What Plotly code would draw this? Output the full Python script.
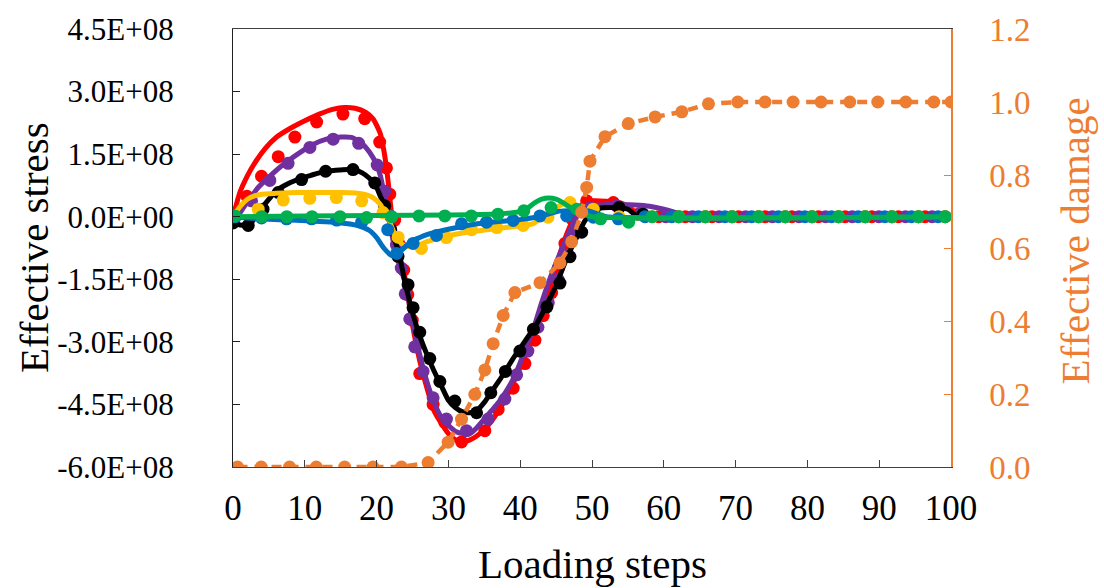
import plotly.graph_objects as go

# ---------------- data (stress in units of 1E+08) ----------------
steps_ticks = [0, 10, 20, 30, 40, 50, 60, 70, 80, 90, 100]
stress_tickvals = [-6, -4.5, -3, -1.5, 0, 1.5, 3, 4.5]
stress_ticktext = ["-6.0E+08", "-4.5E+08", "-3.0E+08", "-1.5E+08",
                   "0.0E+00", "1.5E+08", "3.0E+08", "4.5E+08"]
damage_ticks = [0.0, 0.2, 0.4, 0.6, 0.8, 1.0, 1.2]

# solid curves
red_line_x = [0, 1, 2, 3, 4.5, 6, 8, 10, 12, 14, 15.5, 17, 18.5, 19.5, 20.5, 21, 21.5, 22, 22.5, 23,
              24, 25, 26, 27, 28, 29, 30, 31, 32, 33, 34, 35, 36, 37, 38, 39, 40, 41, 42, 43, 44, 45, 46, 47, 48, 49,
              50, 52, 54, 55, 56, 57, 58, 100]
red_line_y = [0.0, 0.6, 0.98, 1.28, 1.64, 1.9, 2.12, 2.3, 2.46, 2.58, 2.62, 2.6, 2.5, 2.35, 2.0, 1.6, 1.0, 0.2, -0.4, -0.8,
              -1.5, -2.6, -3.45, -4.1, -4.65, -4.95, -5.2, -5.35, -5.4, -5.35, -5.25, -5.1, -4.9, -4.65, -4.35, -4.0,
              -3.6, -3.2, -2.8, -2.3, -1.8, -1.2, -0.64, -0.2, 0.15, 0.35,
              0.38, 0.37, 0.33, 0.25, 0.12, 0.03, 0.0, 0.0]

purple_line_x = [0, 1, 2, 3.5, 5, 7, 9, 11, 13, 15, 16.5, 18, 19, 20, 20.5, 21, 21.5, 22, 22.5, 23,
                 24, 25, 26, 27, 28, 29, 30, 31, 32, 33, 34, 35, 36, 37, 38, 39, 40, 41, 42, 43, 44, 45, 46, 47, 48, 49,
                 50, 52, 54, 56, 58, 60, 62, 63.5, 100]
purple_line_y = [-0.15, 0.1, 0.35, 0.7, 0.95, 1.25, 1.5, 1.72, 1.86, 1.91, 1.9, 1.75, 1.55, 1.25, 1.0, 0.6, 0.2, -0.3, -0.75, -1.05,
                 -1.6, -2.5, -3.3, -3.95, -4.45, -4.8, -5.0, -5.15, -5.2, -5.2, -5.05, -4.85, -4.65, -4.45, -4.2, -3.9,
                 -3.5, -3.05, -2.6, -2.05, -1.55, -1.1, -0.7, -0.3, 0.05, 0.2,
                 0.27, 0.29, 0.29, 0.28, 0.25, 0.18, 0.08, 0.0, 0.0]

black_line_x = [0, 1, 2, 3, 4, 5, 6, 7, 8, 9, 10, 11, 12, 13, 14, 15, 16, 17, 18, 19, 20, 20.5, 21, 21.5, 22, 22.5, 23,
                24, 25, 26, 27, 28, 29, 30, 31, 32, 33, 34, 35, 36, 37, 38, 39, 40, 41, 42, 43, 44, 45, 46, 47, 48, 49,
                50, 51, 53, 55, 56, 57, 100]
black_line_y = [-0.15, -0.2, -0.2, -0.05, 0.2, 0.42, 0.62, 0.73, 0.82, 0.89, 0.95, 1.0, 1.05, 1.09, 1.11, 1.12, 1.13, 1.12,
                1.05, 0.92, 0.7, 0.5, 0.32, 0.05, -0.25, -0.55, -0.8,
                -1.6, -2.3, -2.85, -3.3, -3.7, -4.05, -4.4, -4.58, -4.68, -4.7, -4.64, -4.45, -4.2, -3.95, -3.68, -3.4,
                -3.15, -2.9, -2.65, -2.35, -2.0, -1.65, -1.2, -0.8, -0.45, -0.1,
                0.1, 0.2, 0.22, 0.18, 0.05, 0.0, 0.0]

yellow_line_x = [0, 1, 2, 3, 4, 6, 9, 12, 15, 17, 18.5, 19.5, 20.5, 21, 21.5, 22, 22.5, 23.5, 24.5, 25.5,
                 27, 29, 31, 33, 35, 37, 39, 41, 42, 43, 44, 45, 46, 47, 48, 49, 50, 51, 100]
yellow_line_y = [0.0, 0.25, 0.42, 0.5, 0.54, 0.56, 0.58, 0.58, 0.58, 0.57, 0.53, 0.46, 0.3, 0.15, 0.0, -0.2, -0.4, -0.65,
                 -0.72, -0.7, -0.6, -0.5, -0.42, -0.36, -0.32, -0.28, -0.24, -0.2, -0.15, 0.0, 0.12, 0.22, 0.3, 0.3,
                 0.22, 0.12, 0.05, 0.0, 0.0]

blue_line_x = [0, 2, 5, 8, 11, 14, 16, 17.5, 19, 20, 21, 22, 22.5, 23, 24, 25, 26, 27, 28.5, 30,
               32, 34, 36, 38, 40, 42, 43, 44, 45, 46, 48, 49.5, 51, 52, 100]
blue_line_y = [0.0, -0.03, -0.06, -0.08, -0.1, -0.13, -0.17, -0.22, -0.33, -0.5, -0.75, -0.92, -0.95, -0.88, -0.72,
               -0.58, -0.5, -0.43, -0.36, -0.3, -0.23, -0.17, -0.13, -0.1, -0.07, -0.02, 0.02, 0.07, 0.12, 0.14,
               0.15, 0.14, 0.05, 0.0, 0.0]

green_line_x = [0, 10, 20, 30, 36, 38, 40, 41, 42, 43, 44, 45, 46, 47, 48, 49, 50, 100]
green_line_y = [0.0, 0.02, 0.03, 0.04, 0.06, 0.08, 0.12, 0.2, 0.33, 0.42, 0.45, 0.42, 0.33, 0.22, 0.12, 0.05, 0.0, 0.0]

# dotted (marker) series
red_dot_x = [0, 1.95, 3.97, 6.3, 8.62, 11.65, 15.31, 18.34, 20.43, 21.37, 21.83, 22.52, 23.22, 23.78, 24.34, 24.97,
             25.45, 26.01, 27.87, 29.5, 31.83, 35.08, 36.93, 39.02, 40.66, 42.05, 43.21, 44.38, 45.33, 46.23, 47.21,
             49.26, 52.97, 56.42, 59.29, 63.0, 66.71, 70.42, 74.13, 77.84, 81.55, 85.26, 88.97, 92.68, 96.39]
red_dot_y = [0.0, 0.49, 0.97, 1.44, 1.91, 2.27, 2.46, 2.35, 1.79, 1.17, 0.54, -0.08, -0.68, -1.28, -1.87, -2.48,
             -3.12, -3.76, -4.5, -4.93, -5.4, -5.13, -4.62, -4.11, -3.52, -2.96, -2.37, -1.82, -1.23, -0.64, -0.05,
             0.38, 0.34, 0.06, 0, 0, 0, 0, 0, 0, 0, 0, 0, 0, 0]

purple_dot_x = [0, 2.58, 5.13, 7.67, 10.71, 13.95, 17.5, 20.08, 21.13, 21.9, 22.76, 23.43, 23.99, 24.62, 25.31,
                26.47, 27.87, 29.73, 32.52, 35.54, 37.87, 39.5, 41.07, 42.47, 43.91, 45.3, 46.69, 47.63, 49.72,
                53.44, 56.83, 60.27, 63.98, 67.69, 71.4, 75.11, 78.82, 82.53, 86.24, 89.95, 93.66, 97.37]
purple_dot_y = [-0.03, 0.38, 0.87, 1.28, 1.66, 1.86, 1.76, 1.24, 0.61, 0.02, -0.68, -1.23, -1.85, -2.45, -3.12,
                -3.71, -4.34, -4.85, -5.13, -4.85, -4.37, -3.79, -3.22, -2.65, -2.06, -1.51, -0.92, -0.31, 0.22,
                0.26, 0.09, 0, 0, 0, 0, 0, 0, 0, 0, 0, 0, 0]

black_dot_x = [0, 2.12, 4.18, 6.3, 9.55, 12.9, 16.71, 19.74, 21.13, 21.97, 22.98, 24.38, 25.08, 26.01, 27.41, 28.81,
               30.89, 33.92, 35.91, 37.94, 39.96, 41.84, 43.72, 45.54, 46.93, 48.56, 50.28, 53.77, 57.11,
               62.08, 65.79, 69.5, 73.21, 76.92, 80.63, 84.34, 88.05, 91.76, 95.47, 99.18]
black_dot_y = [-0.15, -0.21, 0.18, 0.58, 0.89, 1.09, 1.13, 0.81, 0.26, -0.31, -0.95, -1.63, -2.18, -2.77, -3.4, -3.95,
               -4.42, -4.7, -4.22, -3.71, -3.22, -2.7, -2.16, -1.59, -0.96, -0.37, 0.16, 0.22, 0.06,
               0, 0, 0, 0, 0, 0, 0, 0, 0, 0, 0]

yellow_dot_x = [0, 3.51, 7.0, 10.7, 14.39, 17.92, 20.89, 22.99, 26.24, 29.72, 33.22, 36.75, 40.41, 43.87, 46.93,
                50.18, 53.76, 58.37, 62.08, 65.79, 69.5, 73.21, 76.92, 80.63, 84.34, 88.05, 91.76, 95.47, 99.18]
yellow_dot_y = [0.0, 0.18, 0.4, 0.44, 0.46, 0.38, 0.1, -0.49, -0.76, -0.5, -0.31, -0.26, -0.21, -0.01, 0.34,
                0.18, 0.0, 0, 0, 0, 0, 0, 0, 0, 0, 0, 0, 0, 0]

blue_dot_x = [0.35, 3.97, 7.46, 10.95, 14.44, 17.92, 21.55, 22.8, 25.08, 28.34, 31.83, 35.31, 39.02, 42.75, 46.47,
              50.18, 53.67, 57.39, 61.1, 64.81, 68.52, 72.23, 75.94, 79.65, 83.36, 87.07, 90.78, 94.49, 98.2]
blue_dot_y = [0.0, -0.03, -0.05, -0.05, -0.08, -0.13, -0.31, -0.88, -0.64, -0.45, -0.17, -0.13, -0.09, 0.02, 0.02,
              -0.01, -0.05, 0, 0, 0, 0, 0, 0, 0, 0, 0, 0, 0, 0]

green_dot_x = [0.25, 4.0, 7.5, 11.0, 14.9, 18.6, 22.1, 25.9, 29.5, 33.2, 36.9, 40.5, 44.3, 47.9, 51.2, 55.1,
               58.37, 62.08, 65.79, 69.5, 73.21, 76.92, 80.63, 84.34, 88.05, 91.76, 95.47, 99.18]
green_dot_y = [0.02, 0.0, 0.0, 0.0, 0.0, -0.02, 0.0, 0.02, 0.02, 0.02, 0.06, 0.14, 0.22, 0.18, -0.05, -0.13,
               0, 0, 0, 0, 0, 0, 0, 0, 0, 0, 0, 0]

damage_x = [0.63, 3.93, 7.88, 11.6, 15.55, 19.5, 23.46, 27.17, 29.96, 31.83, 33.68, 35.08, 36.23, 37.63, 39.26,
            42.75, 45.54, 47.17, 48.56, 49.26, 49.72, 51.81, 55.06, 58.79, 62.51, 66.22, 70.3, 74.1, 78.0, 81.9,
            85.9, 89.8, 93.7, 97.6, 100]
damage_y = [0, 0, 0, 0, 0, 0, 0, 0.012, 0.068, 0.131, 0.199, 0.266, 0.338, 0.415, 0.478,
            0.505, 0.559, 0.617, 0.698, 0.766, 0.838, 0.905, 0.941, 0.959, 0.973, 0.995, 1.0, 1.0, 1.0, 1.0,
            1.0, 1.0, 1.0, 1.0, 1.0]

# ---------------- styling ----------------
RED, PURPLE, BLACK = "#FF0000", "#7030A0", "#000000"
YELLOW, BLUE, GREEN, ORANGE = "#FFC000", "#0070C0", "#00B050", "#ED7D31"
FONT = "Liberation Serif"

fig = go.Figure()

lines = [(red_line_x, red_line_y, RED), (purple_line_x, purple_line_y, PURPLE),
         (black_line_x, black_line_y, BLACK), (yellow_line_x, yellow_line_y, YELLOW),
         (blue_line_x, blue_line_y, BLUE), (green_line_x, green_line_y, GREEN)]
dots = [(red_dot_x, red_dot_y, RED), (purple_dot_x, purple_dot_y, PURPLE),
        (black_dot_x, black_dot_y, BLACK), (yellow_dot_x, yellow_dot_y, YELLOW),
        (blue_dot_x, blue_dot_y, BLUE), (green_dot_x, green_dot_y, GREEN)]

for (lx, ly, c), (dx, dy, _) in zip(lines, dots):
    fig.add_trace(go.Scatter(x=lx, y=ly, mode="lines",
                             line=dict(color=c, width=5, shape="spline", smoothing=0.6),
                             showlegend=False, hoverinfo="skip"))
    fig.add_trace(go.Scatter(x=dx, y=dy, mode="markers",
                             marker=dict(color=c, size=13, line=dict(width=0)),
                             showlegend=False, hoverinfo="skip"))

fig.add_trace(go.Scatter(x=damage_x, y=damage_y, mode="lines+markers", yaxis="y2",
                         line=dict(color=ORANGE, width=4.5, dash="10px,7px"),
                         marker=dict(color=ORANGE, size=13, line=dict(width=0)),
                         showlegend=False, hoverinfo="skip"))

fig.update_layout(
    width=1104, height=588,
    margin=dict(l=233, r=153, t=22, b=121),
    paper_bgcolor="white", plot_bgcolor="white",
    font=dict(family=FONT, size=33, color="black"),
    xaxis=dict(range=[0, 100], tickvals=steps_ticks, showgrid=False, zeroline=False,
               showline=True, linecolor="#404040", linewidth=1.3, mirror=True,
               ticks="inside", ticklen=7, tickcolor="#404040", tickwidth=1.2,
               ticklabelstandoff=10, tickfont=dict(family=FONT, size=35, color="black")),
    yaxis=dict(range=[-6, 4.5], tickvals=stress_tickvals, ticktext=stress_ticktext,
               showgrid=False, zeroline=False, showline=True, linecolor="#202020", linewidth=1.3,
               ticks="inside", ticklen=7, tickcolor="#202020", tickwidth=1.2,
               ticklabelstandoff=52, tickfont=dict(family=FONT, size=31, color="black")),
    yaxis2=dict(range=[0, 1.2], tickvals=damage_ticks, tickformat=".1f", overlaying="y", side="right",
                showgrid=False, zeroline=False, showline=True, linecolor=ORANGE, linewidth=1.5,
                ticks="inside", ticklen=7, tickcolor=ORANGE, tickwidth=1.2,
                ticklabelstandoff=30, tickfont=dict(family=FONT, size=33, color=ORANGE)),
    annotations=[
        dict(text="Loading steps", xref="paper", yref="paper", x=0.5, y=-0.2225,
             xanchor="center", yanchor="middle", showarrow=False,
             font=dict(family=FONT, size=41, color="black")),
        dict(text="Effective stress", xref="paper", yref="paper", x=-0.277, y=0.5,
             xanchor="center", yanchor="middle", textangle=-90, showarrow=False,
             font=dict(family=FONT, size=41, color="black")),
        dict(text="Effective damage", xref="paper", yref="paper", x=1.1728, y=0.515,
             xanchor="center", yanchor="middle", textangle=-90, showarrow=False,
             font=dict(family=FONT, size=41, color=ORANGE)),
    ],
)

fig.write_html("out.html")
